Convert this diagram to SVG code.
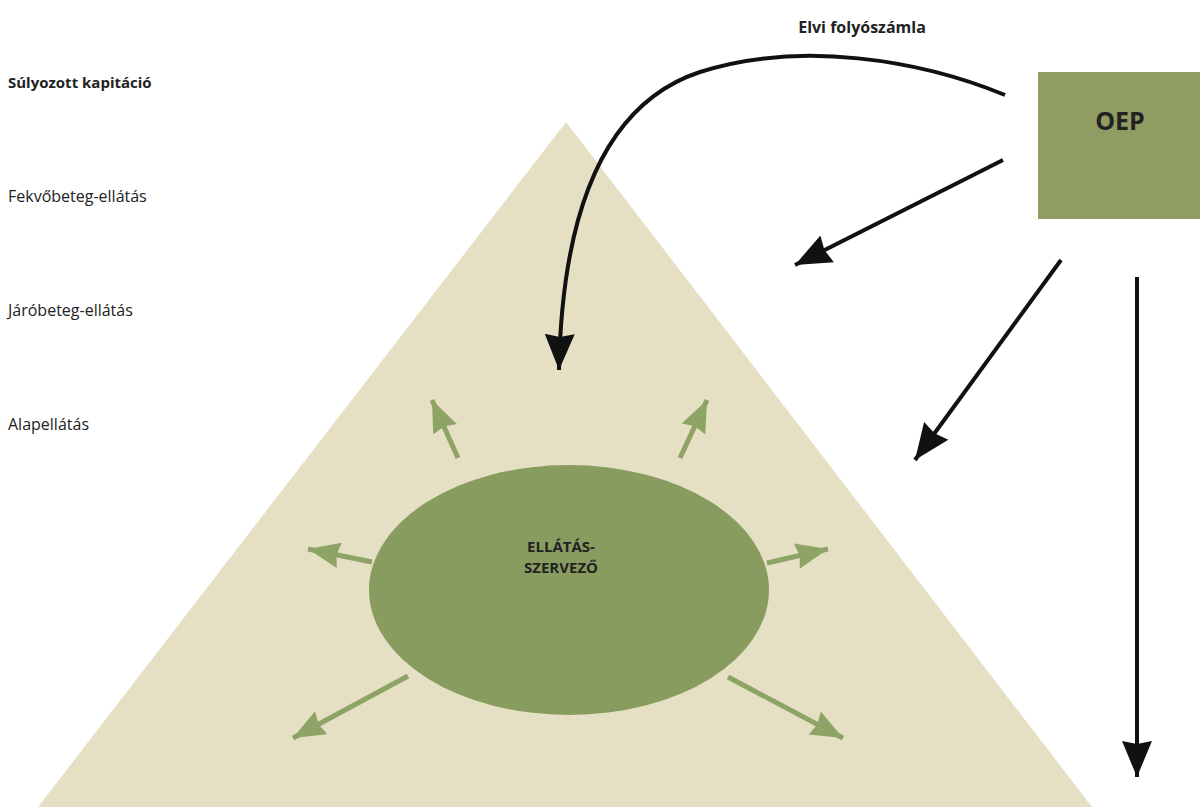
<svg xmlns="http://www.w3.org/2000/svg" width="1200" height="807" viewBox="0 0 1200 807">
<style>
.lbl{font-family:"Open Sans","Liberation Sans",sans-serif;font-size:16px;fill:#222}
.b{font-weight:bold;font-size:15px}
.blk{stroke:#111;stroke-width:4;fill:none}
.grn{stroke:#8ea366;stroke-width:5;fill:none}
</style>
<defs>
<marker id="ah" markerUnits="userSpaceOnUse" markerWidth="40" markerHeight="34" refX="36" refY="16" orient="auto">
<path d="M0,1 L36,16 L0,31 L3,16 Z" fill="#111"/>
</marker>
<marker id="ahs" markerUnits="userSpaceOnUse" markerWidth="36" markerHeight="30" refX="32" refY="14" orient="auto">
<path d="M0,1 L32,14 L0,27 L3,14 Z" fill="#8ea366"/>
</marker>
</defs>
<rect width="1200" height="807" fill="#fff"/>
<g id="pyramid"><polygon points="566,122 1092,807 38,807" fill="#e5e0c3"/></g>
<g id="labels">
<text class="lbl" x="862" y="33" text-anchor="middle" style="font-weight:bold">Elvi folyószámla</text>
<text class="lbl b" x="8" y="88">Súlyozott kapitáció</text>
<text class="lbl" x="8" y="202">Fekvőbeteg-ellátás</text>
<text class="lbl" x="8" y="316">Járóbeteg-ellátás</text>
<text class="lbl" x="8" y="430">Alapellátás</text>
</g>
<g id="oep"><rect x="1038" y="72" width="162" height="147" fill="#909d62"/>
<text class="lbl" x="1120" y="130" text-anchor="middle" style="font-size:25px;font-weight:bold">OEP</text></g>
<g id="ellatasszervezo"><ellipse cx="569" cy="590" rx="200" ry="125" fill="#899c5f"/>
<text class="lbl" x="561" y="552" text-anchor="middle" style="font-size:15px;font-weight:bold">ELLÁTÁS-</text>
<text class="lbl" x="561" y="573" text-anchor="middle" style="font-size:15px;font-weight:bold">SZERVEZŐ</text></g>
<g id="connectors">
<path class="blk" d="M1005,95 C920,60 800,40 700,72 C600,105 562,220 559,370" marker-end="url(#ah)"/>
<path class="blk" d="M1003,160 L795,265" marker-end="url(#ah)"/>
<path class="blk" d="M1061,260 L915,460" marker-end="url(#ah)"/>
<path class="blk" d="M1137,277 L1137,777" marker-end="url(#ah)"/>
<path class="grn" d="M458,458 L432,400" marker-end="url(#ahs)"/>
<path class="grn" d="M680,458 L707,400" marker-end="url(#ahs)"/>
<path class="grn" d="M372,562 L308,549" marker-end="url(#ahs)"/>
<path class="grn" d="M767,563 L828,549" marker-end="url(#ahs)"/>
<path class="grn" d="M408,676 L293,738" marker-end="url(#ahs)"/>
<path class="grn" d="M728,677 L843,738" marker-end="url(#ahs)"/>
</g>
</svg>
